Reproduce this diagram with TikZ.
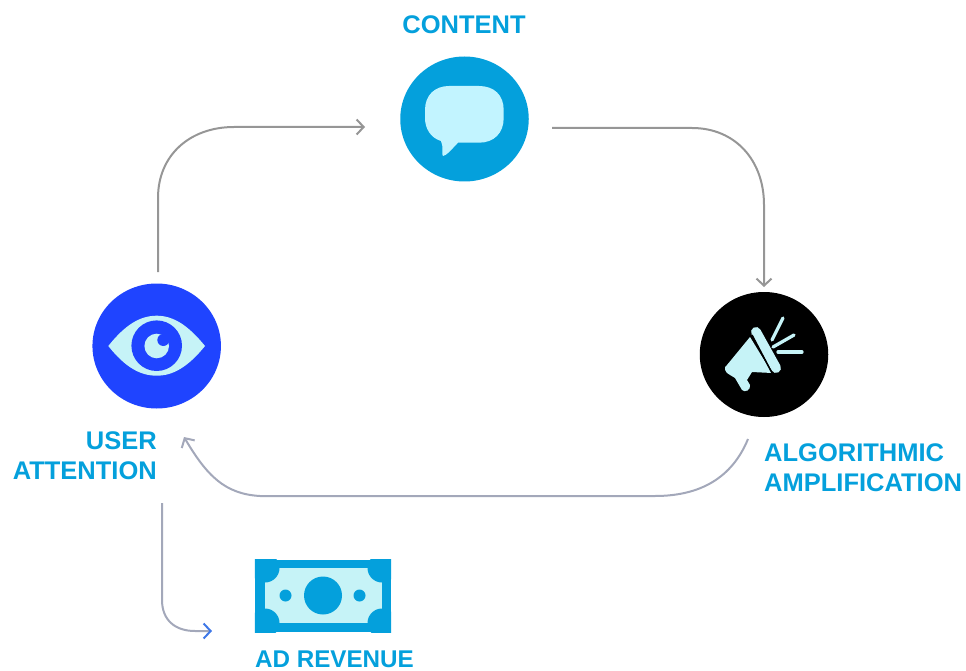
\documentclass[tikz,border=0pt]{standalone}
\usepackage{fontspec}
\setmainfont{Liberation Sans}
\usepackage{tikz}
\usetikzlibrary{arrows,arrows.meta,shapes,positioning}
\definecolor{skyblue}{HTML}{04A0DC}
\definecolor{paleblue}{HTML}{C2F4FF}
\definecolor{paleicon}{HTML}{C6F3F7}
\definecolor{royal}{HTML}{1F44FF}
\definecolor{flowgray}{HTML}{969696}
\definecolor{flowpale}{HTML}{A3A8BA}
\definecolor{arrowblue}{HTML}{3F78E8}

\begin{document}
\begin{tikzpicture}[
    x=1pt,
    y=-1pt,
    >=Stealth,
    stage/.style={
        ellipse,
        minimum width=128.5pt,
        minimum height=125pt,
        inner sep=0pt
    },
    caption/.style={
        font=\bfseries\fontsize{25.5}{30}\selectfont,
        text=skyblue,
        inner sep=0pt
    },
    flow/.style={draw=flowgray, line width=2pt, -{Straight Barb[length=7pt,width=15pt,line width=2pt]}}
]
\useasboundingbox (0,0) rectangle (966,671);

% CIRCLES

\node[stage, fill=skyblue] (content) at (464.5,119) {};
\node[stage, fill=royal] (attention) at (156.7,346) {};
\node[stage, fill=black] (amplify) at (764,354.5) {};

% BANKNOTE
\node[fill=skyblue, minimum width=136pt, minimum height=72pt, inner sep=0pt] (revenue) at (323,596) {};

% LABELS

\node[caption] (contentlabel) at (464,25) {CONTENT};
\node[caption, align=right, anchor=north east] (attentionlabel) at (157,431) {USER\\ATTENTION};
\node[caption, align=left, anchor=north west] (amplifylabel) at (764,443) {ALGORITHMIC\\AMPLIFICATION};
\node[caption, anchor=base west, font=\bfseries\fontsize{24.2}{30}\selectfont] (revenuelabel) at (255,667) {AD REVENUE};

% ANCHORS OF THE ARROWS

\coordinate (a1) at (158,272);
\coordinate (a2) at (365,127);
\coordinate (b1) at (552,128);
\coordinate (b2) at (764,287);
\coordinate (c1) at (748,439);
\coordinate (c2) at (184,437);
\coordinate (d1) at (162,503);
\coordinate (d2) at (212,631);

% --- ARROWS ---
\draw[flow] (a1) -- (158,198) .. controls (158,155) and (190,127) .. (234,127) -- (a2);
\draw[flow] (b1) -- (692,128) .. controls (735,128) and (764,160) .. (764,205) -- (b2);
\draw[flow, draw=flowpale] (c1) .. controls (732,478) and (700,496) .. (655,496) -- (260,496) .. controls (225,494) and (207,476) .. (c2);
\draw[flow, draw=flowpale, -{Straight Barb[length=7pt,width=15pt,line width=2pt,color=arrowblue]}] (d1) -- (162,600) .. controls (162,620) and (175,631) .. (195,631) -- (d2);

% SPEECH BUBBLE
\fill[paleblue] (449,86) -- (479,86) .. controls (494,86) and (503.7,95) .. (503.7,110) -- (503.7,118) .. controls (503.7,133) and (494,142.7) .. (479,142.7) -- (458,142.7) .. controls (452,149) and (446,156) .. (443,156) .. controls (441,155) and (444,147) .. (441,141) .. controls (431,138) and (425,129) .. (425,118) -- (425,110) .. controls (425,95) and (435,86) .. (449,86) -- cycle;

% EYE
\fill[paleicon] (108.3,346) .. controls (125,325) and (140,315.7) .. (156.7,315.7) .. controls (173,315.7) and (188,325) .. (205,346) .. controls (188,367) and (173,375.7) .. (156.7,375.7) .. controls (140,375.7) and (125,367) .. (108.3,346) -- cycle;
\fill[royal] (156.7,345.7) circle (25.3pt);
\fill[paleicon] (156.7,346) circle (12.3pt);
\fill[royal] (163.3,340) circle (6pt);

% MEGAPHONE
\begin{scope}[paleicon]
\fill (750,337) -- (727,365) .. controls (723,367) and (725,373) .. (730,375) -- (735,378) -- (742,390) .. controls (745,393) and (751,390) .. (750,385) -- (747,380) -- (752,372) -- (772,373) -- cycle;
\draw[line width=10pt, line cap=round] (756,332) -- (776,368);
\draw[black, line width=1.5pt] (752,335) -- (772,373);
\draw[line width=3.3pt, line cap=round] (772,340) -- (783,318);
\draw[line width=3.3pt, line cap=round] (773,347) -- (794,335);
\draw[line width=3.3pt, line cap=round] (778,352) -- (802,352);
\end{scope}

% BANKNOTE PAPER
\fill[paleicon] (265,568) rectangle (382,623);
\begin{scope}
\clip (revenue.south west) rectangle (revenue.north east);
\foreach \cx in {265,382}
  \foreach \cy in {568,623}
    \fill[skyblue] (\cx,\cy) circle (14.5pt);
\end{scope}
\fill[skyblue] (323,595.5) circle (19pt);
\fill[skyblue] (285.5,595.5) circle (6pt);
\fill[skyblue] (359.5,595.5) circle (6pt);
\end{tikzpicture}
\end{document}
